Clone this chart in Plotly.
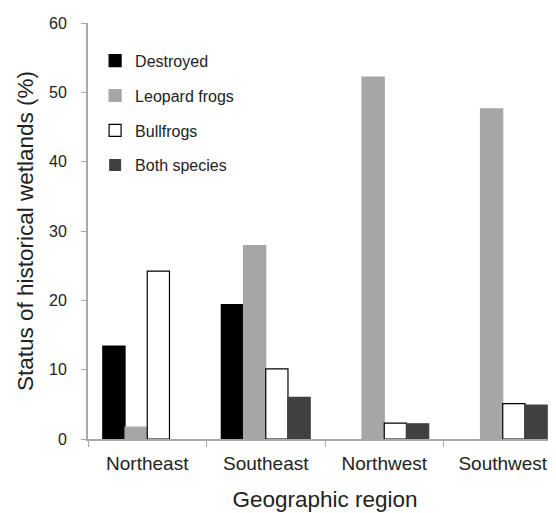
import plotly.graph_objects as go

regions = ["Northeast", "Southeast", "Northwest", "Southwest"]
destroyed = [13.4, 19.4, 0, 0]
leopard = [1.7, 27.9, 52.2, 47.6]
bullfrogs = [24.2, 10.1, 2.3, 5.1]
both = [0, 6.0, 2.2, 4.9]

series_names = ["Destroyed", "Leopard frogs", "Bullfrogs", "Both species"]
fills = ["#000000", "#a6a6a6", "#ffffff", "#404040"]
lines = ["#000000", "#a6a6a6", "#000000", "#404040"]
values = [destroyed, leopard, bullfrogs, both]

FONT = "Liberation Sans, Arial, sans-serif"

fig = go.Figure()
for name, vals, fc, lc in zip(series_names, values, fills, lines):
    fig.add_trace(go.Bar(
        x=regions, y=vals, name=name, legendgroup=name,
        marker=dict(color=fc, line=dict(color=lc, width=[1.2 if v > 0 else 0 for v in vals])),
    ))

fig.update_layout(
    width=556, height=513,
    margin=dict(l=80, r=2, t=15, b=82),
    paper_bgcolor="white", plot_bgcolor="white",
    barmode="group", bargap=0.25, bargroupgap=0,
    font=dict(family=FONT, color="#222222"),
    legend=dict(
        x=0.015, y=0.95, xanchor="left", yanchor="top",
        font=dict(size=16, family=FONT, color="#222222"),
        traceorder="grouped", tracegroupgap=11,
        bgcolor="rgba(0,0,0,0)",
    ),
    xaxis=dict(
        type="category", tickson="boundaries",
        showline=True, linecolor="#a8a8a8", linewidth=2,
        ticks="outside", ticklen=6, tickcolor="#a8a8a8", tickwidth=1,
        tickfont=dict(size=19, family=FONT, color="#222222"),
        ticklabelstandoff=6,
        title=dict(text="Geographic region", font=dict(size=22.5, family=FONT, color="#222222"), standoff=18),
        showgrid=False, zeroline=False, automargin=False,
    ),
    yaxis=dict(
        range=[0, 60], tickvals=[0, 10, 20, 30, 40, 50, 60],
        showline=True, linecolor="#a8a8a8", linewidth=2,
        ticks="outside", ticklen=5, tickcolor="#a8a8a8", tickwidth=1,
        tickfont=dict(size=16, family=FONT, color="#222222"),
        ticklabelstandoff=11,
        title=dict(text="Status of historical wetlands (%)", font=dict(size=22.5, family=FONT, color="#222222"), standoff=9),
        showgrid=False, zeroline=False, automargin=False,
    ),
)

fig.write_html("out.html")
